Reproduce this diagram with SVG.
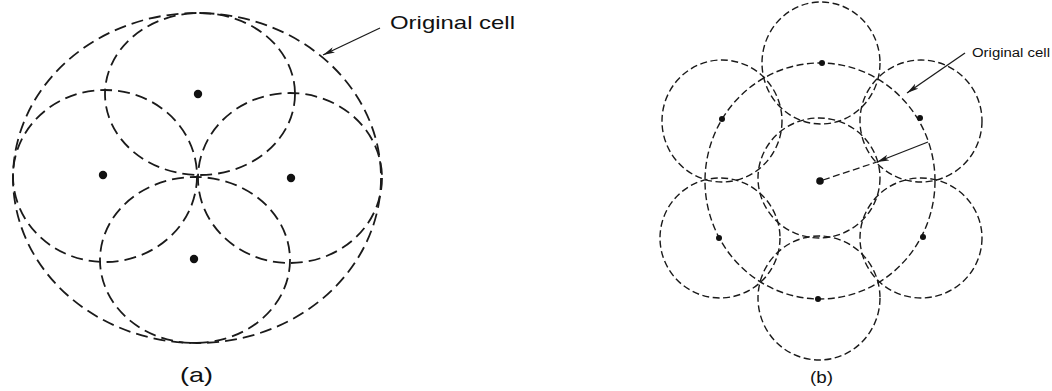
<svg xmlns="http://www.w3.org/2000/svg" width="1052" height="391" viewBox="0 0 1052 391">
  <style>
    .ca { fill: none; stroke: #1a1a1a; stroke-width: 1.8; stroke-dasharray: 12 6; }
    .cb { fill: none; stroke: #1a1a1a; stroke-width: 1.4; stroke-dasharray: 7 3.5; }
    .dot { fill: #111; }
    .lbl { font-family: "Liberation Sans", Arial, sans-serif; fill: #111; }
    .ln { stroke: #1a1a1a; stroke-width: 1.3; fill: none; }
  </style>
  <defs>
    <marker id="ah" viewBox="0 0 12 6" refX="12" refY="3" markerWidth="12" markerHeight="6" markerUnits="userSpaceOnUse" orient="auto">
      <path d="M0,0 L12,3 L0,6 L3,3 Z" fill="#1a1a1a"/>
    </marker>
  </defs>
  <rect width="1052" height="391" fill="#fff"/>

  <!-- Figure (a) -->
  <g id="a-original">
    <ellipse class="ca" cx="197" cy="178" rx="184" ry="165"/>
  </g>
  <g id="a-top">
    <ellipse class="ca" cx="200" cy="94" rx="95" ry="81"/>
    <circle class="dot" cx="198" cy="94" r="4.2"/>
  </g>
  <g id="a-left">
    <ellipse class="ca" cx="105" cy="176" rx="92" ry="86"/>
    <circle class="dot" cx="103" cy="175" r="4.2"/>
  </g>
  <g id="a-right">
    <ellipse class="ca" cx="290" cy="178" rx="92" ry="85"/>
    <circle class="dot" cx="291" cy="178" r="4.2"/>
  </g>
  <g id="a-bottom">
    <ellipse class="ca" cx="195" cy="260" rx="95" ry="83"/>
    <circle class="dot" cx="194" cy="259" r="4.2"/>
  </g>
  <g id="a-labels">
    <text class="lbl" x="390" y="29" font-size="19" textLength="125" lengthAdjust="spacingAndGlyphs">Original cell</text>
    <text class="lbl" x="180" y="382" font-size="21" textLength="33" lengthAdjust="spacingAndGlyphs">(a)</text>
  </g>

  <!-- Figure (b) -->
  <g id="b-original">
    <ellipse class="cb" cx="820" cy="181" rx="115" ry="118"/>
  </g>
  <g id="b-center">
    <ellipse class="cb" cx="819" cy="178" rx="61" ry="60"/>
    <circle class="dot" cx="820" cy="181" r="3.8"/>
  </g>
  <g id="b-top">
    <ellipse class="cb" cx="821" cy="63" rx="59" ry="61"/>
    <circle class="dot" cx="822" cy="63" r="3"/>
  </g>
  <g id="b-upper-left">
    <ellipse class="cb" cx="722" cy="121" rx="60" ry="61"/>
    <circle class="dot" cx="722" cy="119" r="3"/>
  </g>
  <g id="b-upper-right">
    <ellipse class="cb" cx="921" cy="121" rx="61" ry="61"/>
    <circle class="dot" cx="920" cy="118" r="3"/>
  </g>
  <g id="b-lower-left">
    <ellipse class="cb" cx="720" cy="238" rx="60" ry="60"/>
    <circle class="dot" cx="719" cy="238" r="3"/>
  </g>
  <g id="b-lower-right">
    <ellipse class="cb" cx="921" cy="238" rx="61" ry="60"/>
    <circle class="dot" cx="923" cy="237" r="3"/>
  </g>
  <g id="b-bottom">
    <ellipse class="cb" cx="819" cy="298" rx="61" ry="62"/>
    <circle class="dot" cx="818" cy="299" r="3"/>
  </g>
  <g id="b-labels">
    <text class="lbl" x="972" y="57" font-size="12" textLength="78" lengthAdjust="spacingAndGlyphs">Original cell</text>
    <text class="lbl" x="810" y="383" font-size="16" textLength="23" lengthAdjust="spacingAndGlyphs">(b)</text>
  </g>

  <!-- Connectors -->
  <g id="connectors">
    <line class="ln" x1="380" y1="28" x2="323" y2="55" marker-end="url(#ah)"/>
    <line class="ln" x1="965" y1="53" x2="907" y2="93" marker-end="url(#ah)"/>
    <line class="ln" x1="928" y1="142" x2="877" y2="162" marker-end="url(#ah)"/>
    <line class="ln" x1="823" y1="180" x2="877" y2="162" stroke-dasharray="7 3.5"/>
  </g>
</svg>
